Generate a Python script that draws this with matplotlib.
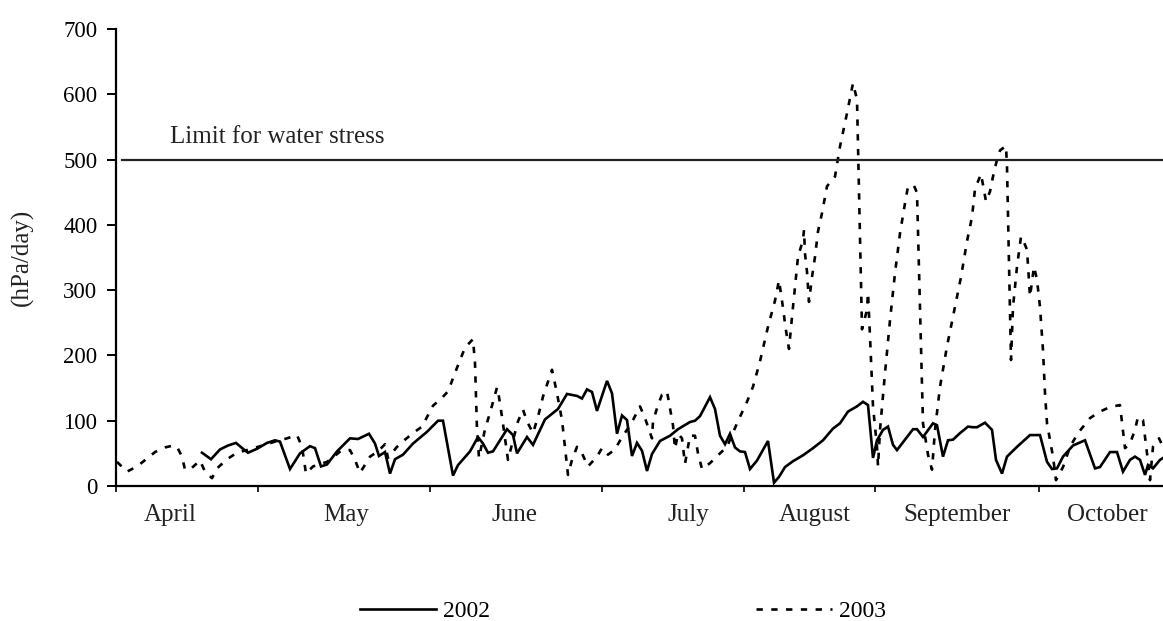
import matplotlib
matplotlib.use("Agg")
import matplotlib.pyplot as plt
from matplotlib.lines import Line2D

plt.rcParams["font.family"] = ["Liberation Serif", "DejaVu Serif"]

# x positions are days along the plotted season (index axis), values in hPa/day
x_2002 = [17.2, 19.0, 20.8, 22.4, 24.0, 25.4, 26.4, 28.2, 30.2, 31.8, 32.8, 34.8,
          36.8, 38.8, 39.8, 41.0, 42.2, 44.2, 46.8, 48.4, 50.6, 51.8, 52.6, 53.8,
          54.8, 55.8, 57.4, 59.4, 62.2, 64.4, 65.4, 67.4, 68.4, 70.8, 72.4, 73.4,
          74.4, 75.4, 78.2, 79.4, 80.2, 82.2, 83.4, 85.8, 88.4, 90.2, 92.2, 93.2,
          94.2, 95.2, 96.2, 98.2, 99.2, 100.2, 101.2, 102.2, 103.2, 104.2, 105.2,
          106.2, 107.2, 108.8, 110.8, 112.4, 114.8, 115.8, 116.8, 118.8, 119.8,
          120.8, 121.8, 122.8, 123.8, 124.8, 125.8, 126.8, 128.2, 130.4, 131.6,
          132.6, 133.8, 135.4, 137.4, 139.4, 141.4, 143.4, 144.8, 146.4, 148.2,
          149.4, 150.4, 151.4, 152.2, 153.4, 154.4, 155.4, 156.2, 158.2, 159.4,
          160.2, 161.4, 163.4, 164.2, 165.4, 166.4, 167.4, 168.8, 170.4, 171.4,
          172.2, 173.8, 175.2, 176.0, 177.2, 178.2, 180.2, 182.8, 184.8, 186.2,
          187.2, 188.2, 189.4, 191.4, 193.8, 195.8, 196.8, 198.8, 200.2, 201.4,
          202.8, 203.8, 204.8, 205.8, 206.4, 207.4, 208.8, 209.4]
y_2002 = [51, 41, 56, 62, 66, 57, 51, 57, 66, 70, 68, 26,
          50, 61, 58, 30, 33, 53, 73, 72, 80, 65, 46, 52,
          19, 41, 48, 65, 83, 100, 100, 16, 32, 53, 75, 65,
          51, 53, 87, 78, 50, 75, 63, 102, 118, 141, 138, 134,
          148, 144, 115, 161, 142, 80, 108, 101, 46, 66, 54,
          23, 49, 69, 77, 87, 98, 100, 107, 136, 118,
          77, 64, 80, 59, 53, 52, 26, 39, 69, 5,
          14, 29, 38, 47, 58, 70, 88, 96, 114, 122,
          129, 124, 43, 70, 86, 91, 63, 55, 75, 87,
          87, 75, 96, 93, 45, 70, 71, 81, 91, 90,
          90, 97, 86, 40, 19, 45, 60, 78, 78, 37,
          26, 27, 45, 62, 70, 27, 29, 52, 52, 22,
          40, 45, 40, 17, 32, 27, 40, 43]

x_2003 = [0.2, 2.2, 4.2, 6.2, 7.8, 9.8, 11.4, 12.2, 13.2, 13.8, 15.2, 16.8,
          17.8, 19.2, 20.2, 22.2, 24.2, 26.2, 28.4, 30.2, 32.2, 34.2, 36.2, 37.2,
          38.0, 39.4, 42.2, 43.4, 45.2, 46.8, 47.8, 48.8, 50.8, 52.4, 53.8, 54.4,
          56.2, 57.8, 59.4, 61.2, 63.4, 65.2, 66.4, 68.2, 69.8, 71.4, 71.8, 72.2,
          72.6, 73.8, 74.8, 76.2, 76.4, 77.2, 78.4, 79.2, 80.4, 81.4, 82.2, 83.4,
          84.4, 85.4, 87.2, 88.2, 89.2, 90.4, 91.2, 92.2, 93.2, 94.4, 96.2, 97.2,
          98.4, 99.8, 101.2, 102.2, 103.4, 104.8, 105.8, 107.2, 107.4, 108.4, 109.2,
          110.2, 110.8, 111.4, 111.8, 112.4, 113.2, 113.8, 114.8, 115.8, 116.4,
          117.2, 118.8, 120.8, 122.2, 124.2, 126.2, 127.4, 128.8, 130.4, 131.8,
          132.6, 133.2, 134.0, 134.6, 135.2, 135.8, 136.4, 137.4, 137.6, 137.8,
          138.2, 138.6, 139.2, 139.8, 140.4, 141.2, 142.2, 143.2, 143.8, 144.8,
          146.2, 147.4, 148.2, 149.2, 150.2, 150.4, 150.8, 151.4, 152.2, 152.4,
          152.8, 153.8, 154.8, 155.8, 156.8, 157.8, 158.4, 159.6, 160.2, 161.4,
          162.4, 163.2, 163.8, 164.8, 166.2, 167.8, 169.0, 170.2, 171.2, 171.8,
          173.0, 173.4, 174.0, 174.8, 175.4, 176.2, 176.8, 178.0, 178.2, 179.0,
          179.4, 180.2, 181.0, 181.4, 182.2, 182.8, 183.6, 184.2, 184.8, 185.4,
          185.8, 186.2, 187.4, 188.0, 189.4, 190.8, 192.4, 194.8, 196.8, 198.8,
          200.8, 201.8, 202.8, 203.8, 204.4, 205.4, 206.2, 206.8, 207.4, 208.6,
          209.4]
y_2003 = [37, 22, 30, 42, 52, 59, 62, 60, 45, 25, 28, 39,
          22, 12, 27, 41, 51, 55, 60, 64, 69, 73, 78, 60,
          19, 30, 37, 44, 55, 55, 40, 20, 45, 53, 64, 43,
          60, 71, 81, 91, 123, 135, 145, 181, 212, 225, 188, 87,
          43, 87, 112, 151, 146, 106, 40, 64, 99, 117, 99, 81,
          106, 137, 178, 142, 101, 17, 40, 60, 50, 30, 45, 58,
          48, 56, 75, 86, 101, 122, 104, 73, 99, 124, 140,
          145, 119, 93, 57, 80, 73, 34, 77, 77, 50,
          26, 35, 50, 60, 96, 129, 152, 191, 244, 284,
          315, 284, 238, 210, 259, 305, 351, 377, 392, 356,
          328, 282, 320, 351, 390, 418, 459, 469, 474, 520,
          571, 617, 592, 240, 270, 296, 229, 122, 60, 30,
          86, 173, 254, 326, 387, 433, 459, 460, 449, 96,
          48, 25, 86, 152, 214, 275, 320, 375, 412, 455,
          478, 461, 436, 451, 474, 500, 514, 521, 489, 193,
          274, 336, 382, 377, 362, 290, 336, 316, 274, 208,
          142, 96, 45, 9, 29, 60, 81, 104, 114, 121,
          124, 58, 65, 86, 106, 101, 50, 9, 60, 73,
          60]

month_edges = [0, 28.4, 62.8, 97.2, 125.6, 151.8, 184.6]
month_centers = [10.8, 46.0, 79.8, 114.4, 139.8, 168.2, 198.2]
month_names = ["April", "May", "June", "July", "August", "September", "October"]
y_ticks = [0, 100, 200, 300, 400, 500, 600, 700]
stress_limit = 500

W, H = 1163, 621
fig = plt.figure(figsize=(W / 100, H / 100), dpi=100, facecolor="white")
ax = fig.add_axes([116 / W, 1 - 486 / H, 1 - 116 / W, (486 - 29) / H])

ax.plot(x_2002, y_2002, color="black", lw=1.9, solid_joinstyle="miter")
ax.plot(x_2003, y_2003, color="black", lw=1.9, linestyle=(0, (2.4, 3.2)),
        dash_capstyle="butt")

ax.axhline(stress_limit, xmin=6 / 1047, color="#222222", lw=1.6)
ax.text(10.8, 534, "Limit for water stress", fontsize=18, color="#222222",
        ha="left", va="center")

ax.set_xlim(0, 209.4)
ax.set_ylim(0, 700)
ax.set_yticks(y_ticks)
ax.tick_params(axis="y", direction="out", length=6.5, width=1.4, pad=7,
               labelsize=16.5)
ax.set_xticks(month_edges)
ax.set_xticklabels([])
ax.tick_params(axis="x", which="major", direction="out", length=4.5, width=1.2)
ax.set_xticks(month_centers, minor=True)
ax.set_xticklabels(month_names, minor=True, fontsize=18, color="#222222")
ax.tick_params(axis="x", which="minor", length=0, pad=13)

for side in ["top", "right"]:
    ax.spines[side].set_visible(False)
for side in ["left", "bottom"]:
    ax.spines[side].set_linewidth(1.6)

fig.text(22 / W, 1 - 257 / H, "(hPa/day)", rotation=90, fontsize=18,
         ha="center", va="center", color="#222222")

handles = [Line2D([], [], color="black", lw=1.9),
           Line2D([], [], color="black", lw=1.9, linestyle=(0, (2.4, 3.2)))]
fig.legend(handles, ["2002", "2003"], ncol=2, frameon=False, fontsize=17,
           loc="center left", bbox_to_anchor=(360 / W, 1 - 611 / H),
           handlelength=3.2, handletextpad=0.3, columnspacing=11.3,
           borderpad=0, borderaxespad=0)

fig.savefig("out.png", dpi=100)
